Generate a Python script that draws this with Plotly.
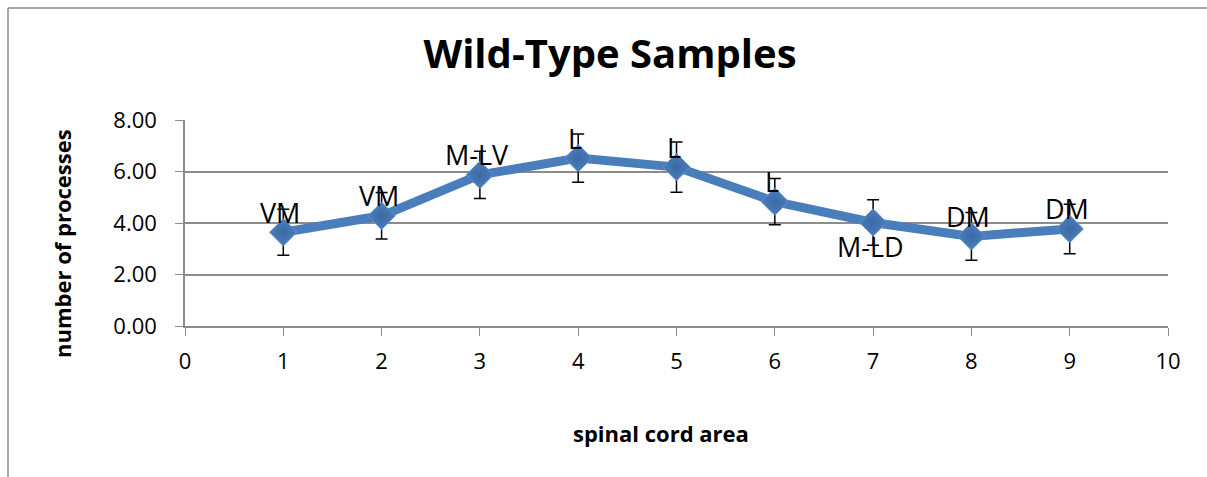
import plotly.graph_objects as go

areas = [1, 2, 3, 4, 5, 6, 7, 8, 9]
processes = [3.64, 4.28, 5.87, 6.52, 6.17, 4.83, 4.02, 3.48, 3.77]
errors = [0.89, 0.90, 0.92, 0.94, 0.98, 0.90, 0.88, 0.93, 0.96]
labels = ["VM", "VM", "M-LV", "L", "L", "L", "M-LD", "DM", "DM"]
label_above = [True, True, True, True, True, True, False, True, True]
y_ticks = [0, 2, 4, 6, 8]
x_ticks = [0, 1, 2, 3, 4, 5, 6, 7, 8, 9, 10]

W, H = 1207, 477
L, R, T, B = 185, 39, 120, 151
pw, ph = W - L - R, H - T - B

def px_x(p):
    return (p - L) / pw

def px_y(p):
    return (H - B - p) / ph

fig = go.Figure()
fig.add_trace(go.Scatter(
    x=areas, y=processes, mode="lines+markers",
    line=dict(color="#4a7ebb", width=9),
    marker=dict(symbol="diamond", size=21, color="#4a7ebb",
                gradient=dict(type="radial", color="#3b6aa6"),
                line=dict(color="#5b8fd0", width=1)),
    error_y=dict(type="data", array=errors, color="black", thickness=1.5, width=6),
    showlegend=False, hoverinfo="x+y"))

for x, y, t, up in zip(areas, processes, labels, label_above):
    fig.add_annotation(x=x, y=y, text=t, showarrow=False,
                       xshift=-3, yshift=20 if up else -24,
                       font=dict(family="Open Sans", size=27, color="black"))

# axis titles
fig.add_annotation(xref="paper", yref="paper", x=px_x(62), y=px_y(244),
                   text="<b>number of processes</b>", textangle=-90, showarrow=False,
                   xanchor="center", yanchor="middle",
                   font=dict(family="Open Sans", size=22, color="black"))
fig.add_annotation(xref="paper", yref="paper", x=px_x(661), y=px_y(433),
                   text="<b>spinal cord area</b>", showarrow=False,
                   xanchor="center", yanchor="middle",
                   font=dict(family="Open Sans", size=22, color="black"))

fig.update_layout(
    width=W, height=H,
    margin=dict(l=L, r=R, t=T, b=B),
    paper_bgcolor="white", plot_bgcolor="white",
    title=dict(text="<b>Wild-Type Samples</b>", x=610 / W, xanchor="center",
               y=1 - 54 / H, yanchor="middle",
               font=dict(family="Open Sans", size=40, color="black")),
    xaxis=dict(range=[0, 10], tickvals=x_ticks, ticktext=[str(v) for v in x_ticks],
               showgrid=False, zeroline=False, showline=True, linecolor="#8c8c8c",
               linewidth=1.5, ticks="outside", ticklen=8, tickcolor="#8c8c8c",
               ticklabelstandoff=7,
               tickfont=dict(family="Open Sans", size=22, color="black")),
    yaxis=dict(range=[0, 8], tickvals=y_ticks, ticktext=["%.2f" % v for v in y_ticks],
               showgrid=True, gridcolor="#8c8c8c", gridwidth=1.5, zeroline=False,
               showline=True, linecolor="#8c8c8c", linewidth=1.5,
               ticks="outside", ticklen=8, tickcolor="#8c8c8c",
               ticklabelstandoff=14,
               tickfont=dict(family="Open Sans", size=22, color="black")),
    yaxis2=dict(range=[0, 8], overlaying="y", side="left", tickvals=y_ticks,
                showticklabels=False, showgrid=False, zeroline=False,
                ticks="inside", ticklen=7, tickcolor="#8c8c8c", showline=False),
)
fig.add_trace(go.Scatter(x=[None], y=[None], yaxis="y2", showlegend=False))

# outer chart frame (top and left edges visible)
frame_style = dict(color="#8c8c8c", width=1.5)
fig.add_shape(type="line", xref="paper", yref="paper",
              x0=px_x(8), x1=px_x(1207), y0=px_y(8), y1=px_y(8), line=frame_style)
fig.add_shape(type="line", xref="paper", yref="paper",
              x0=px_x(8), x1=px_x(8), y0=px_y(8), y1=px_y(477), line=frame_style)

fig.write_html("out.html", config={"displayModeBar": False},
               post_script="document.body.style.margin='0';document.body.style.overflow='hidden';")
